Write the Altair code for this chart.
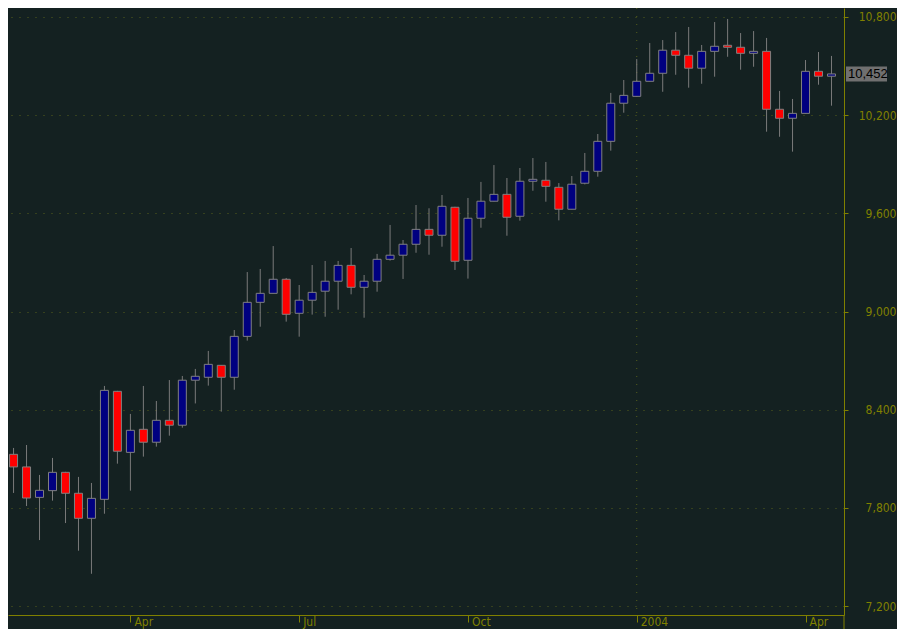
import pandas as pd
import altair as alt

# Weekly candles, Jan 2003 - Apr 2004
opens = [8588, 8127, 8050, 7864, 7905, 8017, 7889, 7736, 7852, 8512,
         8139, 8280, 8201, 8335, 8305, 8580, 8598, 8671, 8598, 8848,
         9056, 9111, 9197, 8989, 9069, 9124, 9185, 9282, 9148, 9185,
         9319, 9344, 9411, 9502, 9466, 9637, 9313, 9570, 9674, 9716,
         9582, 9796, 9802, 9759, 9625, 9784, 9857, 10040, 10273, 10315,
         10407, 10456, 10597, 10566, 10487, 10590, 10627, 10615, 10578, 10590,
         10236, 10181, 10211, 10468, 10438]
highs = [8642, 8166, 8184, 8001, 8105, 8020, 7989, 7952, 8545, 8515,
         8374, 8545, 8453, 8581, 8606, 8649, 8759, 8673, 8887, 9241,
         9260, 9400, 9205, 9162, 9284, 9309, 9309, 9388, 9223, 9352,
         9529, 9437, 9651, 9631, 9712, 9640, 9694, 9792, 9895, 9816,
         9877, 9938, 9914, 9785, 9828, 9969, 10085, 10336, 10415, 10543,
         10641, 10659, 10708, 10739, 10629, 10769, 10788, 10702, 10714, 10672,
         10348, 10299, 10537, 10586, 10562]
lows = [8099, 7891, 7811, 7603, 7844, 7707, 7538, 7397, 7764, 8070,
        7905, 8113, 8174, 8241, 8290, 8438, 8547, 8388, 8522, 8822,
        8907, 9111, 8938, 8846, 8981, 8968, 9011, 9105, 8962, 9121,
        9311, 9199, 9359, 9347, 9396, 9254, 9201, 9512, 9673, 9463,
        9555, 9738, 9671, 9557, 9625, 9777, 9824, 9983, 10215, 10315,
        10407, 10343, 10447, 10368, 10392, 10435, 10557, 10478, 10496, 10099,
        10068, 9977, 10211, 10386, 10258]
closes = [8129, 8050, 7860, 7907, 8017, 7889, 7736, 7858, 8518, 8146,
          8274, 8201, 8335, 8305, 8580, 8604, 8677, 8598, 8848, 9056,
          9111, 9197, 8983, 9069, 9117, 9185, 9282, 9148, 9185, 9319,
          9344, 9411, 9502, 9466, 9643, 9307, 9570, 9674, 9716, 9576,
          9796, 9808, 9765, 9625, 9778, 9857, 10040, 10273, 10321, 10407,
          10456, 10597, 10566, 10487, 10590, 10621, 10615, 10578, 10590, 10236,
          10181, 10211, 10468, 10438, 10452]

# bar index of the first week of each quarter and its label
tick_idx = [10, 23, 36, 49, 62]
tick_labels = ["Apr", "Jul", "Oct", "2004", "Apr"]
price_ticks = [7200, 7800, 8400, 9000, 9600, 10200, 10800]
year_idx = [49]

bg = "#142121"
olive = "#808000"
dots = "#56601c"

df = pd.DataFrame({"idx": range(len(opens)), "open": opens, "high": highs,
                   "low": lows, "close": closes})
df["dir"] = ["up" if c >= o else "down" for o, c in zip(opens, closes)]
last = df.iloc[[-1]]

label_expr = " : ".join(f"datum.value == {v} ? '{t}'" for v, t in zip(tick_idx, tick_labels)) + " : ''"

W, H = 836, 607
xs = alt.Scale(domain=[0.572, 64.964], nice=False, zero=False, padding=0)
ys = alt.Scale(domain=[7145.0, 10855.0], nice=False, zero=False, padding=0)

x_axis = alt.Axis(values=tick_idx, labelExpr=label_expr, grid=False, domainColor=olive,
                  tickColor=olive, tickSize=7, labelColor=olive, labelAlign="left",
                  labelBaseline="alphabetic", labelPadding=3, labelOffset=3.5, labelFlush=False,
                  labelOverlap=False, labelFont="DejaVu Sans Condensed", labelFontSize=12,
                  title=None)
y_axis = alt.Axis(orient="right", values=price_ticks, format=",d", grid=True,
                  gridDash=[1, 7], gridColor=dots, domainColor=olive, tickColor=olive,
                  tickSize=4, labelAlign="right", labelPadding=48, labelColor=olive,
                  labelFont="DejaVu Sans Condensed", labelFontSize=12, title=None)

base = alt.Chart(df)

wicks = base.mark_rule(color="#7a7a7a", strokeWidth=1, clip=True).encode(
    x=alt.X("idx:Q", scale=xs, axis=x_axis),
    y=alt.Y("low:Q", scale=ys, axis=y_axis),
    y2="high:Q",
)

bodies = base.mark_bar(size=8, stroke="#808080", strokeWidth=1, clip=True).encode(
    x=alt.X("idx:Q", scale=xs),
    y=alt.Y("open:Q", scale=ys),
    y2="close:Q",
    color=alt.Color("dir:N", scale=alt.Scale(domain=["up", "down"], range=["#000080", "#ff0000"]),
                    legend=None),
)

year_line = alt.Chart(pd.DataFrame({"idx": year_idx})).mark_rule(
    color=dots, strokeDash=[1, 7], strokeWidth=1).encode(x=alt.X("idx:Q", scale=xs))

axis_ext = alt.Chart(pd.DataFrame({"idx": [0]})).mark_rule(color=olive, clip=False).encode(
    x=alt.value(W), y=alt.value(H), y2=alt.value(621))

box = alt.Chart(last).mark_rect(color="#707070", yOffset=-7.5, y2Offset=7.5, clip=False).encode(
    x=alt.value(838), x2=alt.value(879),
    y=alt.Y("close:Q", scale=ys), y2="close:Q",
)
box_text = alt.Chart(last).mark_text(align="left", baseline="middle", color="black",
                                     font="Liberation Sans", fontSize=13, clip=False).encode(
    x=alt.value(840), y=alt.Y("close:Q", scale=ys), text=alt.Text("close:Q", format=",d"),
)

chart = alt.layer(year_line, wicks, bodies, axis_ext, box, box_text).properties(
    width=W, height=H, background=bg,
    autosize=alt.AutoSizeParams(type="none"),
    padding={"left": 0, "top": 0, "right": 889 - W, "bottom": 621 - H},
).configure_view(strokeWidth=0)

chart.save("out.html", embed_options={"renderer": "svg", "actions": False})
